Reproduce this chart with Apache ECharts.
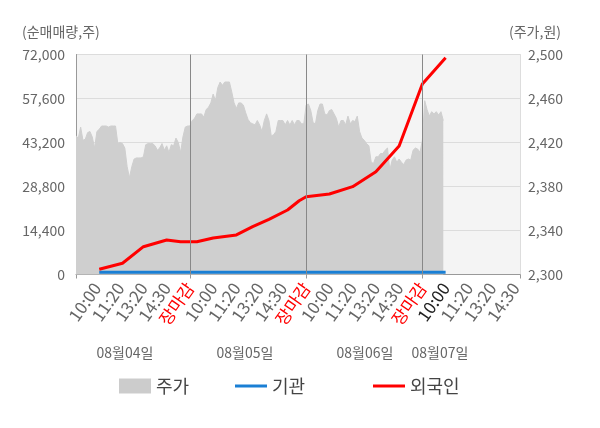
<!DOCTYPE html>
<html>
<head>
<meta charset="utf-8">
<script src="https://cdn.jsdelivr.net/npm/echarts@6/dist/echarts.min.js"></script>
<style>
  html, body { margin: 0; padding: 0; background: #fff; }
  #chart { width: 600px; height: 428px; }
</style>
</head>
<body>
<div id="chart"></div>
<script>
// trading days and the time labels repeated under each day
var days = ['08월04일', '08월05일', '08월06일', '08월07일'];
var timeLabels = ['10:00', '11:20', '13:20', '14:30', '장마감'];
var slotsPerLabel = 10;
var slotsPerDay = 50;
var slotCount = 192;

// 주가 (price, won) per slot
var priceData = [
  2426, 2424, 2434, 2422, 2423, 2429, 2430, 2425, 2415, 2430,
  2432, 2435, 2435, 2435, 2434, 2435, 2435, 2435, 2419, 2420,
  2419, 2415, 2398, 2388, 2398, 2405, 2406, 2406, 2406, 2407,
  2418, 2419, 2419, 2419, 2417, 2413, 2415, 2419, 2413, 2417,
  2411, 2418, 2417, 2424, 2420, 2411, 2425, 2434, 2435, 2435,
  2440, 2442, 2446, 2446, 2446, 2443, 2450, 2452, 2456, 2464,
  2458, 2470, 2475, 2472, 2475, 2475, 2475, 2466, 2456, 2451,
  2456, 2456, 2454, 2447, 2441, 2438, 2437, 2436, 2440, 2436,
  2430, 2440, 2446, 2440, 2426, 2427, 2430, 2440, 2440, 2440,
  2436, 2440, 2436, 2440, 2436, 2440, 2440, 2437, 2437, 2454,
  2455, 2449, 2438, 2437, 2449, 2455, 2455, 2446, 2445, 2449,
  2450, 2446, 2442, 2434, 2440, 2440, 2436, 2444, 2437, 2440,
  2439, 2444, 2430, 2424, 2422, 2419, 2417, 2402, 2401, 2407,
  2407, 2410, 2410, 2413, 2415, 2395, 2404, 2407, 2402, 2405,
  2402, 2400, 2404, 2405, 2404, 2413, 2415, 2414, 2411, 2422,
  2458, 2450, 2444, 2448, 2446, 2448, 2445, 2448, 2440
];

// 외국인 cumulative net volume: [slot, shares]
var foreignPoints = [
  [10, 1700], [20, 3670], [29, 9100], [39, 11300], [45, 10700],
  [52, 10700], [59, 11950], [69, 12950], [76, 15650], [83, 18070],
  [91, 21100], [96, 24150], [99, 25460], [109, 26350], [119, 28740],
  [129, 33650], [139, 42060], [149, 62350], [159, 70960]
];

// 기관 cumulative net volume: [slot, shares]
var institutionPoints = [[10, 700], [59, 700], [109, 700], [159, 700]];

var slotLabels = [];
var categories = [];
for (var i = 0; i < slotCount; i++) {
  var d = Math.min(days.length - 1, Math.floor(i / slotsPerDay));
  var lbl = '';
  if ((i + 1) % slotsPerLabel === 0) {
    lbl = timeLabels[((i + 1) / slotsPerLabel - 1) % timeLabels.length];
  }
  slotLabels.push(lbl);
  categories.push(days[d] + ' ' + (lbl || ('#' + i)));
}
var dividerIdx = [49, 99, 149];

function toSeries(points) {
  return points.map(function (p) { return [categories[p[0]], p[1]]; });
}

var font = 'Noto Sans CJK KR';
var legendText = { fontSize: 18, color: '#444', fontFamily: font };
var chart = echarts.init(document.getElementById('chart'));
var option = {
  animation: false,
  textStyle: { fontFamily: font },
  grid: {
    left: 76, right: 80, top: 54.5, bottom: 153.5,
    show: true, backgroundColor: '#f4f4f4', borderWidth: 0
  },
  legend: [
    { left: 114, top: 372, data: ['주가'], icon: 'rect', itemWidth: 32, itemHeight: 15, textStyle: legendText },
    { left: 230, top: 372, data: ['기관'], icon: 'rect', itemWidth: 32, itemHeight: 3, textStyle: legendText },
    { left: 368, top: 372, data: ['외국인'], icon: 'rect', itemWidth: 32, itemHeight: 3, textStyle: legendText }
  ],
  graphic: [
    { type: 'text', left: 22, top: 25, style: { text: '(순매매량,주)', fill: '#666', fontSize: 14, fontFamily: font } },
    { type: 'text', left: 509, top: 25, style: { text: '(주가,원)', fill: '#666', fontSize: 14, fontFamily: font } },
    { type: 'text', x: 125, y: 353, style: { text: days[0], fill: '#666', fontSize: 14, fontFamily: font, align: 'center', verticalAlign: 'middle' } },
    { type: 'text', x: 245, y: 353, style: { text: days[1], fill: '#666', fontSize: 14, fontFamily: font, align: 'center', verticalAlign: 'middle' } },
    { type: 'text', x: 365, y: 353, style: { text: days[2], fill: '#666', fontSize: 14, fontFamily: font, align: 'center', verticalAlign: 'middle' } },
    { type: 'text', x: 440, y: 353, style: { text: days[3], fill: '#666', fontSize: 14, fontFamily: font, align: 'center', verticalAlign: 'middle' } }
  ],
  xAxis: {
    type: 'category',
    boundaryGap: false,
    data: categories,
    axisLine: { lineStyle: { color: '#999' } },
    axisTick: {
      show: true, length: 4, lineStyle: { color: '#999' },
      interval: function (idx) { return idx === 0 || idx === slotCount - 1 || dividerIdx.indexOf(idx) >= 0; }
    },
    axisLabel: {
      interval: function (idx) { return slotLabels[idx] !== ''; },
      formatter: function (v, idx) { return slotLabels[idx]; },
      rotate: 55,
      margin: 10,
      fontSize: 17,
      color: function (v, idx) {
        var l = v.split(' ')[1];
        if (l === '장마감') return '#ff0000';
        if (v === days[3] + ' 10:00') return '#222';
        return '#666';
      }
    },
    splitLine: { show: false }
  },
  yAxis: [
    {
      type: 'value', min: 0, max: 72000, interval: 14400,
      axisLine: { show: true, lineStyle: { color: '#999' } },
      axisTick: { show: false },
      axisLabel: { color: '#666', fontSize: 14, margin: 11,
        formatter: function (v) { return v.toLocaleString('en-US'); } },
      splitLine: { lineStyle: { color: '#dcdcdc' } }
    },
    {
      type: 'value', min: 2300, max: 2500, interval: 40, position: 'right',
      axisLine: { show: true, lineStyle: { color: '#ddd' } },
      axisTick: { show: false },
      axisLabel: { color: '#666', fontSize: 14, margin: 8,
        formatter: function (v) { return v.toLocaleString('en-US'); } },
      splitLine: { show: false }
    }
  ],
  series: [
    {
      name: '주가', type: 'line', yAxisIndex: 1, data: priceData,
      symbol: 'none', itemStyle: { color: '#cccccc' },
      lineStyle: { width: 1, color: '#cfcfcf' },
      areaStyle: { color: '#cfcfcf', opacity: 1 },
      markLine: {
        silent: true, symbol: 'none', label: { show: false },
        lineStyle: { color: '#888', width: 1, type: 'solid' },
        data: dividerIdx.map(function (i) { return { xAxis: categories[i] }; })
      }
    },
    {
      name: '기관', type: 'line', data: toSeries(institutionPoints),
      symbol: 'none', connectNulls: true, itemStyle: { color: '#1a7fd4' },
      lineStyle: { width: 3, color: '#1a7fd4' }
    },
    {
      name: '외국인', type: 'line', data: toSeries(foreignPoints),
      symbol: 'none', connectNulls: true, itemStyle: { color: '#ff0000' },
      lineStyle: { width: 3, color: '#ff0000' }
    }
  ]
};
chart.setOption(option);
window.onresize = chart.resize;
</script>
</body>
</html>
